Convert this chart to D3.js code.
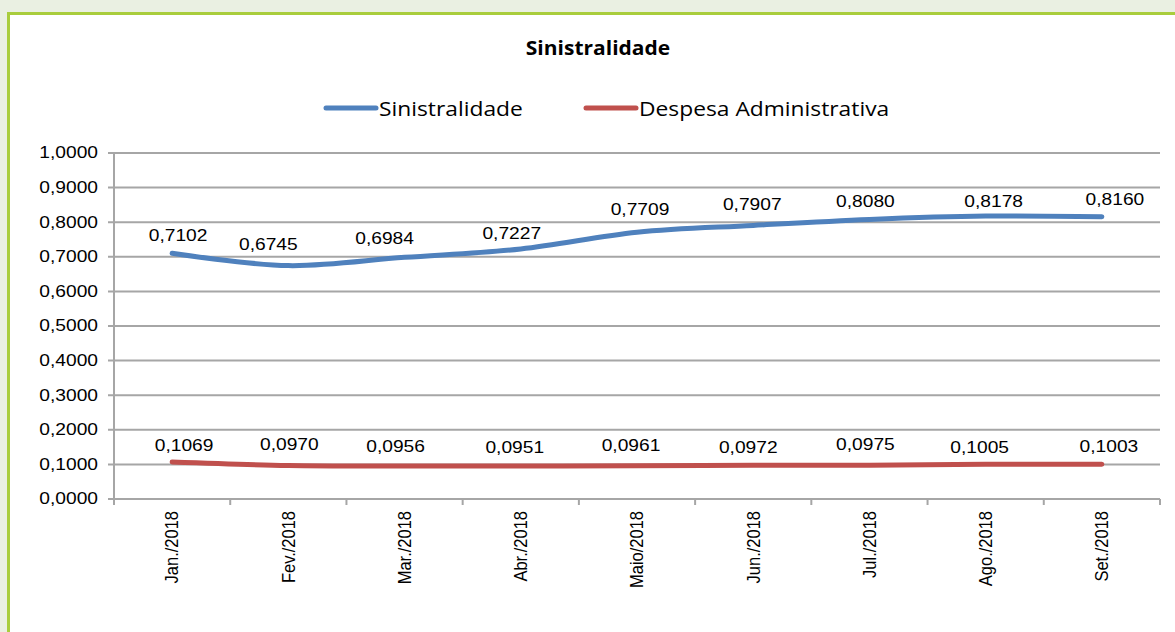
<!DOCTYPE html>
<html>
<head>
<meta charset="utf-8">
<script src="https://cdn.jsdelivr.net/npm/d3@7"></script>
<style>
  html, body { margin: 0; padding: 0; background: #eaf0e2; }
  svg { display: block; }
</style>
</head>
<body>
<svg class="chart" width="1175" height="632"></svg>
<script>
// data
const months = ["Jan./2018", "Fev./2018", "Mar./2018", "Abr./2018", "Maio/2018",
  "Jun./2018", "Jul./2018", "Ago./2018", "Set./2018"];
const sinistralidade = [0.7102, 0.6745, 0.6984, 0.7227, 0.7709, 0.7907, 0.8080, 0.8178, 0.8160];
const despesa = [0.1069, 0.0970, 0.0956, 0.0951, 0.0961, 0.0972, 0.0975, 0.1005, 0.1003];
const yTicks = [0, 0.1, 0.2, 0.3, 0.4, 0.5, 0.6, 0.7, 0.8, 0.9, 1.0];
const seriesNames = ["Sinistralidade", "Despesa Administrativa"];

// config
const chartTitle = "Sinistralidade";
const colors = ["#4f81bd", "#c0504d"];
const plotLeft = 114, plotRight = 1160, plotTop = 153, plotBottom = 499;
const stretch = 1.2; // the picture's text is a little wide
// label nudges (dx, dy) so labels sit like in the reference
const nudgeS = [[6, -18], [-20, -21], [-20, -19], [-9, -15], [3, -23], [-1, -21], [-4, -18], [8, -14], [13, -17]];
const nudgeD = [[12, -16], [1, -21], [-9, -19], [-6, -19], [-6, -20], [-5, -18], [-4, -21], [-6, -17], [7, -18]];

const svg = d3.select("svg.chart");

// panel with green border
svg.append("rect").attr("x", 0).attr("y", 0).attr("width", 1175).attr("height", 632).attr("fill", "#eaf0e2");
svg.append("rect").attr("x", 7).attr("y", 12).attr("width", 1175).attr("height", 640)
  .attr("fill", "#a9cd3d");
svg.append("rect").attr("x", 10).attr("y", 15).attr("width", 1175).attr("height", 640)
  .attr("fill", "#ffffff");

const x = d3.scaleBand().domain(months).range([plotLeft, plotRight]);
const y = d3.scaleLinear().domain([0, 1]).range([plotBottom, plotTop]);
const fmt = v => d3.format(".4f")(v).replace(".", ",");

function wideText(sel, px, py, k = stretch) {
  return sel.attr("transform", `translate(${px},${py}) scale(${k},1)`);
}

// title
svg.append("text")
  .call(wideText, 598, 47, 1.05)
  .attr("text-anchor", "middle").attr("dominant-baseline", "central")
  .attr("font-family", "'Open Sans', sans-serif").attr("font-weight", "bold").attr("font-size", 20)
  .text(chartTitle);

// legend
const legendX = [326, 586];
seriesNames.forEach((name, i) => {
  const g = svg.append("g").attr("transform", `translate(${legendX[i]},108)`);
  g.append("line").attr("x1", 0).attr("x2", 50).attr("y1", 0).attr("y2", 0)
    .attr("stroke", colors[i]).attr("stroke-width", 5).attr("stroke-linecap", "round");
  g.append("text").call(wideText, 53, 0, 1.14).attr("dominant-baseline", "central")
    .attr("font-family", "'Open Sans', sans-serif").attr("font-size", 20).attr("fill", "#000")
    .text(name);
});

// gridlines
svg.append("g").selectAll("line").data(yTicks).join("line")
  .attr("x1", plotLeft - 6).attr("x2", plotRight)
  .attr("y1", d => y(d)).attr("y2", d => y(d))
  .attr("stroke", "#a6a6a6").attr("stroke-width", 2);

// y axis
svg.append("line").attr("x1", plotLeft).attr("x2", plotLeft).attr("y1", plotTop).attr("y2", plotBottom + 6)
  .attr("stroke", "#a6a6a6").attr("stroke-width", 2);
svg.append("g").selectAll("text").data(yTicks).join("text")
  .each(function (d) { wideText(d3.select(this), plotLeft - 16, y(d)); })
  .attr("text-anchor", "end").attr("dominant-baseline", "central")
  .attr("font-family", "'Liberation Sans', Arial, sans-serif").attr("font-size", 16)
  .text(fmt);

// x axis ticks on band edges
const edges = months.map(m => x(m)).concat([x.range()[1]]);
svg.append("g").selectAll("line").data(edges).join("line")
  .attr("x1", d => d).attr("x2", d => d).attr("y1", plotBottom).attr("y2", plotBottom + 6)
  .attr("stroke", "#a6a6a6").attr("stroke-width", 2);

// x labels
svg.append("g").selectAll("text").data(months).join("text")
  .attr("transform", d => `translate(${x(d) + x.bandwidth() / 2},511) rotate(-90) scale(1,1.1)`)
  .attr("text-anchor", "end").attr("dy", "0.35em")
  .attr("font-family", "'Liberation Sans', Arial, sans-serif").attr("font-size", 16.5)
  .text(d => d);

// lines
const line = d3.line()
  .x((d, i) => x(months[i]) + x.bandwidth() / 2)
  .y(d => y(d))
  .curve(d3.curveCatmullRom.alpha(0));

[sinistralidade, despesa].forEach((values, s) => {
  svg.append("path").datum(values)
    .attr("d", line)
    .attr("fill", "none").attr("stroke", colors[s]).attr("stroke-width", 5)
    .attr("stroke-linecap", "round").attr("stroke-linejoin", "round");

  const nudge = s === 0 ? nudgeS : nudgeD;
  svg.append("g").selectAll("text").data(values).join("text")
    .each(function (d, i) {
      wideText(d3.select(this),
        x(months[i]) + x.bandwidth() / 2 + nudge[i][0], y(d) + nudge[i][1]);
    })
    .attr("text-anchor", "middle").attr("dominant-baseline", "central")
    .attr("font-family", "'Liberation Sans', Arial, sans-serif").attr("font-size", 16)
    .text(fmt);
});
</script>
</body>
</html>
